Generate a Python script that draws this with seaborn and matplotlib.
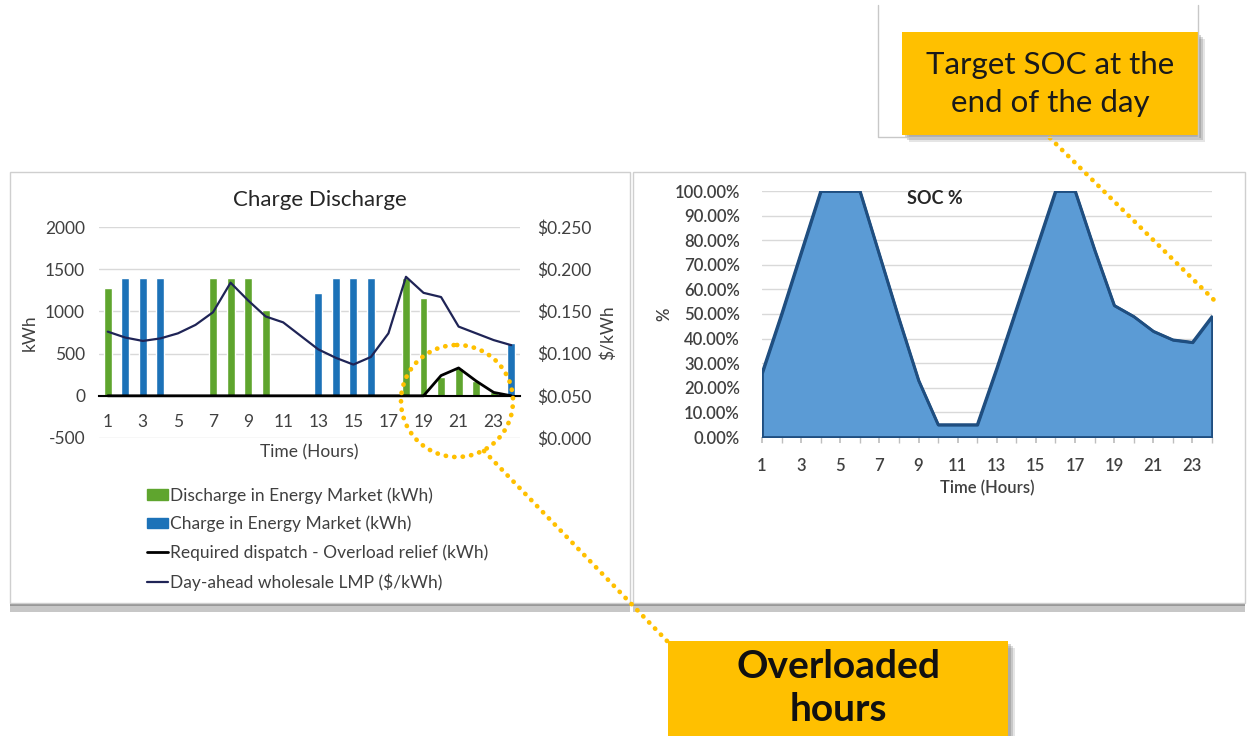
"""
Battery dispatch: charge/discharge schedule + state of charge (two Excel-style panels)
Output: out.png
"""

import numpy as np
import pandas as pd
import matplotlib
matplotlib.use("Agg")
import matplotlib.pyplot as plt
from matplotlib.patches import Rectangle, Ellipse, Patch
from matplotlib.lines import Line2D
from matplotlib.ticker import PercentFormatter, StrMethodFormatter
import seaborn as sns

# ---------------------------------------------------------------------------
# Data
# ---------------------------------------------------------------------------
hours = list(range(1, 25))
discharge_kwh = [1280, 0, 0, 0, 0, 0, 1400, 1400, 1400, 1020, 0, 0,
                 0, 0, 0, 0, 0, 1400, 1160, 225, 330, 170, 50, 0]
charge_kwh = [0, 1400, 1400, 1400, 0, 0, 0, 0, 0, 0, 0, 0,
              1220, 1400, 1400, 1400, 0, 0, 0, 0, 0, 0, 0, 630]
dispatch_kwh = [0, 0, 0, 0, 0, 0, 0, 0, 0, 0, 0, 0,
                0, 0, 0, 0, 0, 0, 0, 240, 330, 175, 40, 0]
lmp = [0.126, 0.119, 0.115, 0.118, 0.124, 0.134, 0.149, 0.184, 0.163, 0.144, 0.137, 0.121,
       0.105, 0.095, 0.087, 0.096, 0.124, 0.191, 0.172, 0.167, 0.132, 0.124, 0.116, 0.110]
soc = [0.26, 0.50, 0.75, 1.00, 1.00, 1.00, 0.74, 0.48, 0.23, 0.05, 0.05, 0.05,
       0.28, 0.52, 0.76, 1.00, 1.00, 0.76, 0.535, 0.49, 0.43, 0.395, 0.385, 0.49]

legend_labels = ["Discharge in Energy Market (kWh)",
                 "Charge in Energy Market (kWh)",
                 "Required dispatch - Overload relief (kWh)",
                 "Day-ahead wholesale LMP ($/kWh)"]

df = pd.DataFrame({"hour": hours, "discharge": discharge_kwh, "charge": charge_kwh,
                   "dispatch": dispatch_kwh, "lmp": lmp, "soc": soc})

GREEN = "#5FA52E"
BLUE = "#1C72B8"
NAVY = "#1F2456"
TXT = "#404040"
GRID = "#D9D9D9"
ORANGE = "#FFC000"

sns.set_theme(style="white")
plt.rcParams["font.family"] = ["Lato", "DejaVu Sans"]
plt.rcParams["axes.unicode_minus"] = False

W, H = 1248, 736
fig = plt.figure(figsize=(W / 100, H / 100), dpi=100)

def fx(px):
    return px / W

def fy(py):
    return 1 - py / H

# background panels (pixel coordinates)
bg = fig.add_axes([0, 0, 1, 1], zorder=0)
bg.set_xlim(0, W)
bg.set_ylim(H, 0)
bg.axis("off")
for x0, x1 in [(10, 630), (633, 1245)]:
    bg.add_patch(Rectangle((x0, 603), x1 - x0, 9, color="#9a9a9a", alpha=0.55, lw=0))
    bg.add_patch(Rectangle((x0, 602), x1 - x0, 4, color="#7a7a7a", alpha=0.6, lw=0))
    bg.add_patch(Rectangle((x0, 172), x1 - x0, 431, facecolor="white",
                           edgecolor="#cfcfcf", lw=1))

# ---------------------------------------------------------------------------
# Left panel: Charge Discharge
# ---------------------------------------------------------------------------
ax = fig.add_axes([fx(99), fy(438), fx(520) - fx(99), fy(227) - fy(438)], zorder=1)
ax.patch.set_visible(False)
sns.barplot(data=df, x="hour", y="discharge", native_scale=True, width=0.45,
            color=GREEN, saturation=1, errorbar=None, ax=ax)
sns.barplot(data=df, x="hour", y="charge", native_scale=True, width=0.45,
            color=BLUE, saturation=1, errorbar=None, ax=ax)
sns.lineplot(data=df, x="hour", y="dispatch", color="black", lw=2, ax=ax, zorder=4)
ax.set_xlim(0.5, 24.5)
ax.set_ylim(-500, 2000)
ax.set_yticks([-500, 0, 500, 1000, 1500, 2000])
ax.yaxis.grid(True, color=GRID, lw=1)
ax.set_axisbelow(True)
ax.set_xticks(range(1, 24, 2))
ax.set_xticklabels([str(h) for h in range(1, 24, 2)])
for s in ["left", "right", "top"]:
    ax.spines[s].set_visible(False)
ax.spines["bottom"].set_position(("data", 0))
ax.spines["bottom"].set_color("black")
ax.spines["bottom"].set_linewidth(1.5)
ax.tick_params(axis="both", length=0, labelsize=12.5, colors=TXT)
ax.tick_params(axis="y", pad=10)
ax.tick_params(axis="x", pad=13)
ax.set_xlabel("Time (Hours)", fontsize=12.5, color=TXT)
ax.xaxis.set_label_coords(0.5, -0.03)
ax.set_ylabel("kWh", fontsize=12.5, color=TXT)
ax.yaxis.set_label_coords(-0.145, 0.5)

ax2 = ax.twinx()
ax2.set_zorder(2)
ax2.patch.set_visible(False)
sns.lineplot(data=df, x="hour", y="lmp", color=NAVY, lw=1.6, ax=ax2)
ax2.set_ylim(0, 0.25)
ax2.set_yticks([0, 0.05, 0.10, 0.15, 0.20, 0.25])
ax2.yaxis.set_major_formatter(StrMethodFormatter("${x:.3f}"))
for s in ax2.spines.values():
    s.set_visible(False)
ax2.tick_params(axis="y", length=0, labelsize=12.5, colors=TXT, pad=12)
ax2.set_ylabel("$/kWh", fontsize=12.5, color=TXT)
ax2.yaxis.set_label_coords(1.19, 0.5)

fig.text(fx(320), fy(200), "Charge Discharge", ha="center", va="center",
         fontsize=16, color="#262626")

handles = [Patch(facecolor=GREEN, edgecolor=GREEN),
           Patch(facecolor=BLUE, edgecolor=BLUE),
           Line2D([], [], color="black", lw=2),
           Line2D([], [], color=NAVY, lw=1.6)]
fig.legend(handles, legend_labels, loc="upper left",
           bbox_to_anchor=(fx(140), fy(480)), frameon=False, fontsize=12.5,
           labelcolor=TXT, handlelength=1.2, handleheight=0.55,
           handletextpad=0.1, labelspacing=0.7, borderaxespad=0)

# ---------------------------------------------------------------------------
# Right panel: SOC %
# ---------------------------------------------------------------------------
bx = fig.add_axes([fx(762), fy(437), fx(1212) - fx(762), fy(191) - fy(437)], zorder=1)
bx.patch.set_visible(False)
bx.fill_between(df["hour"], df["soc"], 0, facecolor="#5B9BD5",
                edgecolor="#1F4E80", lw=2, zorder=2)
sns.lineplot(data=df, x="hour", y="soc", color="#1F4E80", lw=2, ax=bx, zorder=3)
bx.set_xlim(1, 24)
bx.set_ylim(0, 1.0)
bx.set_yticks(np.arange(0, 1.01, 0.1))
bx.yaxis.set_major_formatter(PercentFormatter(1.0, decimals=2))
bx.yaxis.grid(True, color=GRID, lw=1)
bx.set_axisbelow(True)
bx.set_xticks(range(1, 24, 2))
bx.set_xticks(range(1, 25), minor=True)
for s in bx.spines.values():
    s.set_visible(False)
bx.tick_params(axis="y", length=0, labelsize=12, colors=TXT, pad=16)
bx.tick_params(axis="x", which="major", length=4, color="#BFBFBF",
               labelsize=12, colors=TXT, pad=11)
bx.tick_params(axis="x", which="minor", length=4, color="#BFBFBF")
bx.tick_params(axis="x", which="both", bottom=True)
for lab in bx.get_xticklabels() + bx.get_yticklabels():
    lab.set_fontweight("semibold")
bx.set_xlabel("Time (Hours)", fontsize=12, color=TXT, fontweight="semibold")
bx.xaxis.set_label_coords(0.5, -0.175)
bx.set_ylabel("%", fontsize=12, color=TXT, fontweight="semibold")
bx.yaxis.set_label_coords(-0.2, 0.5)

fig.text(fx(935), fy(199), "SOC %", ha="center", va="center",
         fontsize=13, fontweight="bold", color="#262626")

# ---------------------------------------------------------------------------
# Call-outs (pixel coordinates on a transparent overlay)
# ---------------------------------------------------------------------------
ov = fig.add_axes([0, 0, 1, 1], zorder=5)
ov.set_xlim(0, W)
ov.set_ylim(H, 0)
ov.axis("off")
ov.patch.set_visible(False)

dot = dict(color=ORANGE, lw=3.4, linestyle=(0, (0.05, 1.75)),
           dash_capstyle="round", solid_capstyle="round")
ov.add_patch(Ellipse((457, 401), 112, 112, fill=False, edgecolor=ORANGE,
                     lw=3.4, linestyle=(0, (0.05, 1.75)), capstyle="round"))
ov.plot([484, 668], [451, 642], **dot)
ov.plot([1050, 1214], [138, 300], **dot)

# top call-out
ov.plot([878, 878, 1198, 1198], [5, 137, 137, 5], color="#C8C8C8", lw=1)
for off, a in [(7, 0.18), (5, 0.25), (3, 0.3)]:
    ov.add_patch(Rectangle((902 + off, 32 + off), 296, 103, color="#707070",
                           alpha=a, lw=0))
ov.add_patch(Rectangle((902, 32), 296, 103, color=ORANGE, lw=0))
ov.text(1050, 84, "Target SOC at the\nend of the day", ha="center", va="center",
        fontsize=22.5, color="#1a1a1a", linespacing=1.45)

# bottom call-out
for off, a in [(7, 0.18), (5, 0.25), (3, 0.3)]:
    ov.add_patch(Rectangle((668 + off, 641 + off), 340, 100, color="#707070",
                           alpha=a, lw=0))
ov.add_patch(Rectangle((668, 641), 340, 100, color=ORANGE, lw=0))
ov.text(838, 688, "Overloaded\nhours", ha="center", va="center",
        fontsize=28, fontweight="bold", color="#111111", linespacing=1.3)

fig.savefig("out.png", dpi=100)
print("saved out.png")
